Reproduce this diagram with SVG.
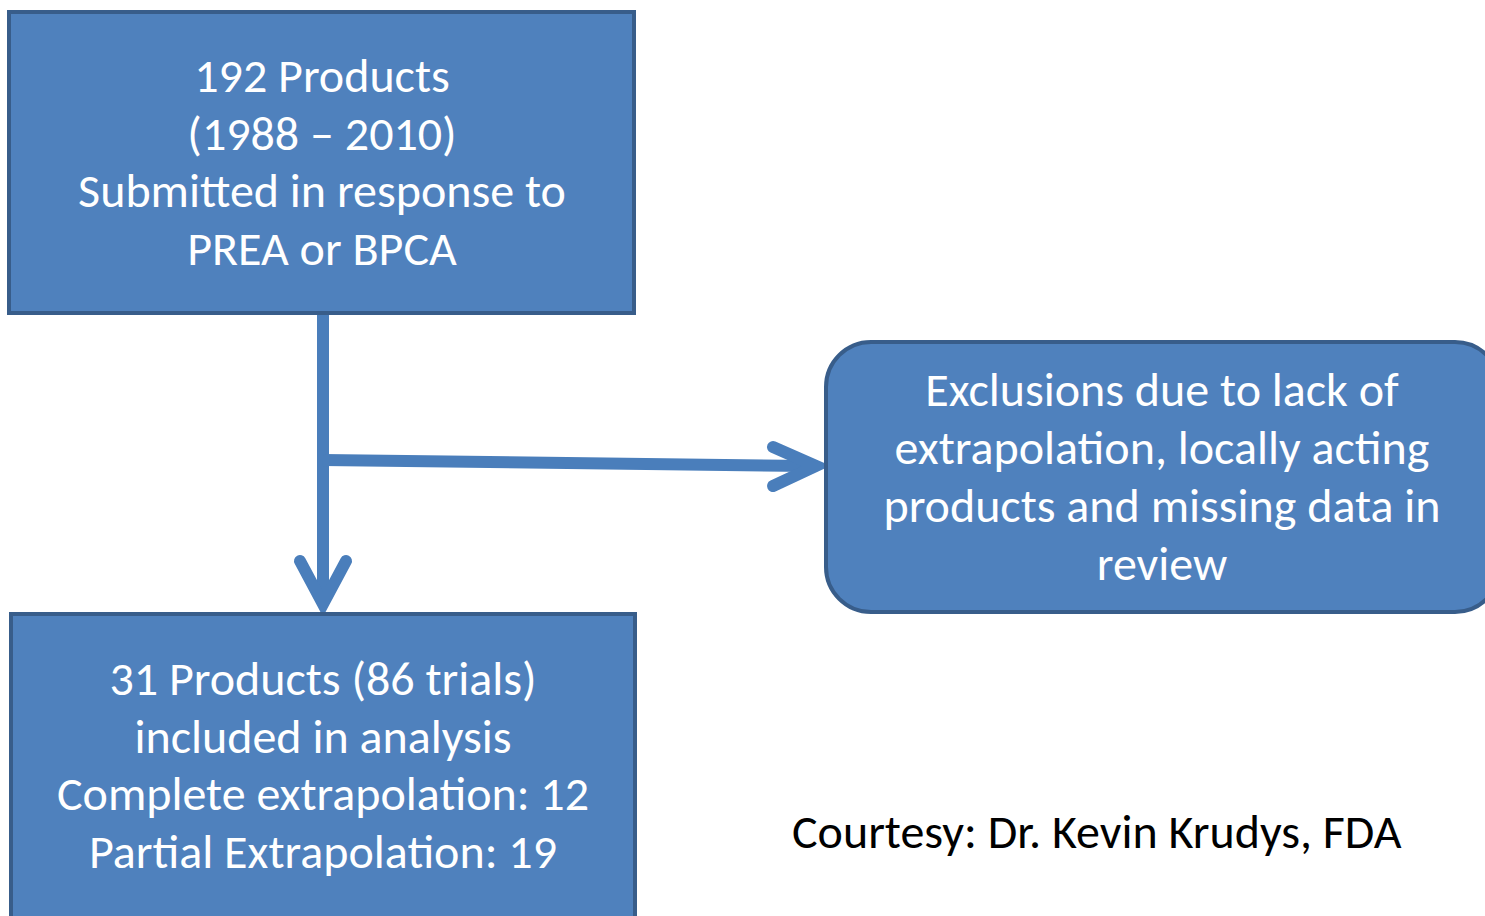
<svg xmlns="http://www.w3.org/2000/svg" width="1485" height="916" viewBox="0 0 1485 916">
<style>
.box{fill:#4F81BD;stroke:#385D8A;stroke-width:4}
.t{font-family:Carlito,Lato,"Open Sans",sans-serif;font-size:48px;fill:#FFFFFF;text-anchor:middle}
.c{font-family:Carlito,Lato,"Open Sans",sans-serif;font-size:48px;fill:#000000}
.ln{fill:none;stroke:#4A7EBB;stroke-width:12;stroke-linecap:round;stroke-linejoin:miter}
.ln2{fill:none;stroke:#4A7EBB;stroke-width:12;stroke-linecap:butt}
</style>
<rect width="1485" height="916" fill="#FFFFFF"/>
<g id="connectors">
<line class="ln2" x1="323" y1="314" x2="323" y2="600"/>
<line class="ln2" x1="323" y1="460" x2="810" y2="466"/>
<polyline class="ln" points="300,561 323,604 346,561"/>
<polyline class="ln" points="773,447 816,466 773,486"/>
</g>
<g id="node1">
<rect class="box" x="9" y="12" width="625" height="301"/>
<text class="t" x="322" y="92">192 Products</text>
<text class="t" x="322" y="150">(1988 – 2010)</text>
<text class="t" x="322" y="207">Submitted in response to</text>
<text class="t" x="322" y="265">PREA or BPCA</text>
</g>
<g id="node2">
<rect class="box" x="11" y="614" width="624" height="310"/>
<text class="t" x="323" y="695">31 Products (86 trials)</text>
<text class="t" x="323" y="753">included in analysis</text>
<text class="t" x="323" y="810">Complete extrapolation: 12</text>
<text class="t" x="323" y="868">Partial Extrapolation: 19</text>
</g>
<g id="node3">
<rect class="box" x="826" y="342" width="674" height="270" rx="45" ry="45"/>
<text class="t" x="1162" y="406">Exclusions due to lack of</text>
<text class="t" x="1162" y="464">extrapolation, locally acting</text>
<text class="t" x="1162" y="522">products and missing data in</text>
<text class="t" x="1162" y="580">review</text>
</g>
<g id="courtesy">
<text class="c" x="792" y="848">Courtesy: Dr. Kevin Krudys, FDA</text>
</g>
</svg>
